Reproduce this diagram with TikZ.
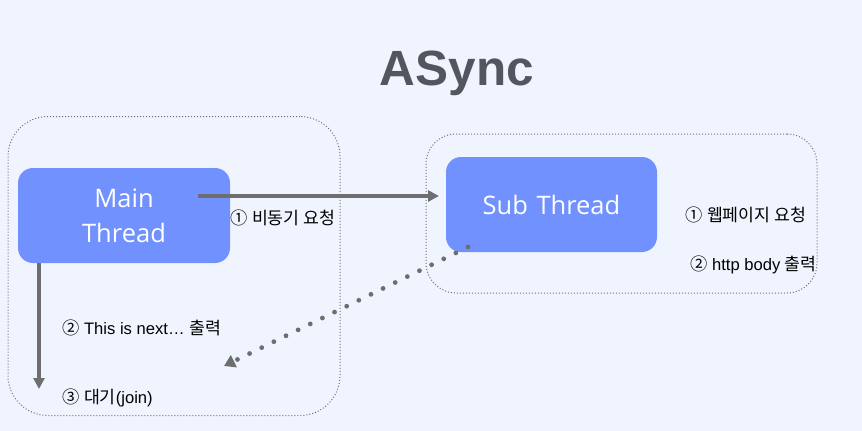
\documentclass[tikz,border=0pt]{standalone}
\usepackage{fontspec}
\setmainfont{Liberation Sans}
\newfontfamily\kr{Noto Sans CJK KR}[Scale=1.04]
\newfontfamily\boxfont{Open Sans}
\newcommand\K[1]{{\kr #1}}
\usetikzlibrary{arrows.meta}
\definecolor{bg}{HTML}{F0F4FE}
\definecolor{boxblue}{HTML}{7191FE}
\definecolor{arrgray}{HTML}{6E6E6E}
\definecolor{titlegray}{HTML}{52565F}
\definecolor{dotgray}{HTML}{707070}
\begin{document}
\begin{tikzpicture}[x=1pt,y=-1pt,
  container/.style={draw=dotgray, line width=1pt, dash pattern=on 1pt off 2pt, fill=none, inner sep=0pt},
  thread/.style={fill=boxblue, draw=none, rounded corners=15pt, inner sep=0pt, text=white,
    font=\boxfont\fontsize{25.5}{35}\selectfont, align=center, text width=200pt},
  lbl/.style={anchor=west, inner sep=0pt, font=\fontsize{16.6}{19}\selectfont, text=black},
  solidarrow/.style={draw=arrgray, line width=3.2pt, -{Triangle[width=11pt,length=11pt]}},
  dotarrow/.style={draw=arrgray, line width=4.8pt, line cap=round, dash pattern=on 0pt off 13.5pt,
    -{Triangle[width=13pt,length=11pt,line cap=butt]}}
]
\useasboundingbox (0,0) rectangle (862,431);
\fill[bg] (0,0) rectangle (862,431);

\node[anchor=base, inner sep=0pt, text=titlegray, font=\bfseries\fontsize{49.5}{56}\selectfont] (title) at (457,85) {ASync};

\node[container, rounded corners=40pt, minimum width=332pt, minimum height=299pt] (lc) at (174,266) {};
\node[container, rounded corners=30pt, minimum width=391pt, minimum height=159pt] (rc) at (621.5,213.5) {};

\node[thread, minimum width=212pt, minimum height=95pt] (main) at (124,215.5) {Main\\Thread};
\node[thread, minimum width=211pt, minimum height=95pt] (sub) at (551.5,204.5) {Sub Thread};

\coordinate (a1s) at (198,196);
\coordinate (a1e) at (439,196);
\draw[solidarrow] (a1s) -- (a1e);

\coordinate (d1s) at (39,263);
\coordinate (d1e) at (39,389);
\draw[solidarrow] (d1s) -- (d1e);

\coordinate (dts) at (468,247);
\coordinate (dte) at (224,366);
\draw[dotarrow] (dts) -- (dte);

\node[lbl] (l1) at (230,218) {\K{①} \K{비동기 요청}};
\node[lbl] (l2) at (62,328) {\K{②} This is next… \K{출력}};
\node[lbl] (l3) at (62,398) {\K{③} \K{대기}(join)};
\node[lbl] (r1) at (685,215) {\K{①} \K{웹페이지 요청}};
\node[lbl] (r2) at (690,265) {\K{②} http body \K{출력}};
\end{tikzpicture}
\end{document}
